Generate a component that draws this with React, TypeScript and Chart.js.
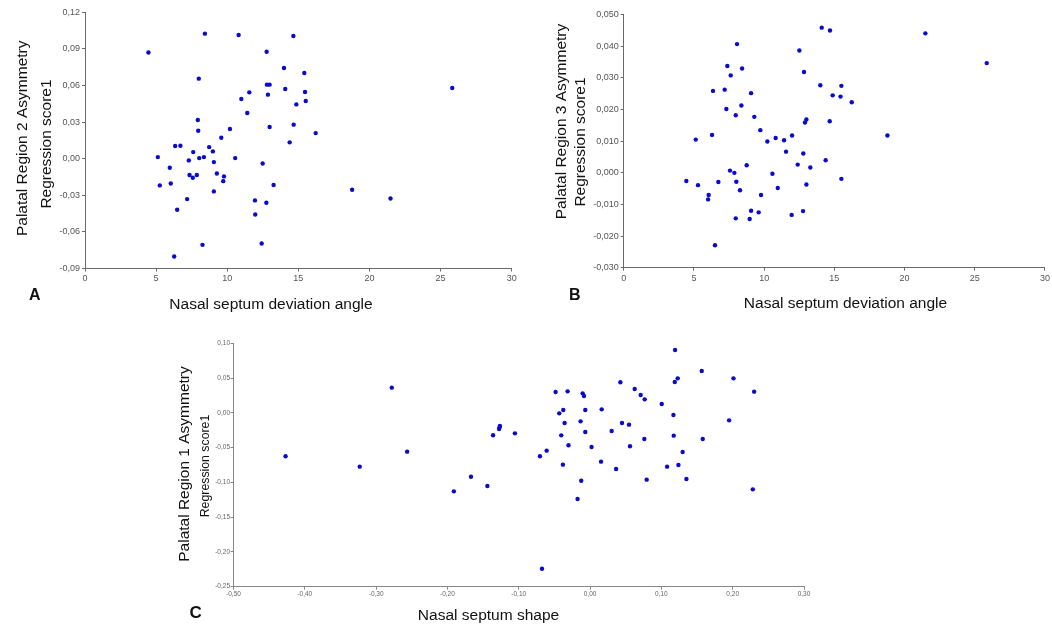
import React, { useEffect, useRef } from 'react';
import { Chart, registerables } from 'chart.js';

Chart.register(...registerables);

// ---------- Panel A: Palatal Region 2 vs nasal septum deviation angle ----------
const xTicksA = [0, 5, 10, 15, 20, 25, 30];
const yTicksA = [-0.09, -0.06, -0.03, 0, 0.03, 0.06, 0.09, 0.12];
const angleA = [4.46, 8.43, 10.80, 14.65, 12.77, 13.99, 15.42, 8.00, 12.79, 12.98, 11.55, 14.08, 15.47, 12.86, 10.99, 15.52, 14.86, 11.41, 7.93, 14.67, 7.96, 10.19, 12.98, 16.22, 9.58, 14.39, 6.34, 6.71, 8.73, 7.61, 8.99, 5.12, 8.03, 8.36, 10.56, 7.30, 9.06, 12.49, 5.96, 7.35, 7.58, 7.86, 9.27, 9.77, 9.72, 5.26, 6.03, 13.26, 9.06, 18.78, 7.18, 21.48, 11.95, 12.75, 6.48, 11.97, 25.82, 8.26, 12.42, 6.27];
const region2Score = [0.0871, 0.1025, 0.1014, 0.1006, 0.0877, 0.0743, 0.0702, 0.0656, 0.0607, 0.0607, 0.0544, 0.0571, 0.0547, 0.0525, 0.0489, 0.0473, 0.0445, 0.0374, 0.0317, 0.0279, 0.0229, 0.0243, 0.0260, 0.0210, 0.0172, 0.0134, 0.0104, 0.0106, 0.0095, 0.0054, 0.0060, 0.0013, 0.0005, 0.0013, 0.0005, -0.0014, -0.0028, -0.0039, -0.0074, -0.0134, -0.0156, -0.0134, -0.0121, -0.0145, -0.0184, -0.0219, -0.0203, -0.0216, -0.0268, -0.0255, -0.0331, -0.0326, -0.0342, -0.0361, -0.0419, -0.0457, 0.0579, -0.0706, -0.0695, -0.0802];

// ---------- Panel B: Palatal Region 3 vs nasal septum deviation angle ----------
const xTicksB = [0, 5, 10, 15, 20, 25, 30];
const yTicksB = [-0.03, -0.02, -0.01, 0, 0.01, 0.02, 0.03, 0.04, 0.05];
const angleB = [14.10, 14.69, 21.48, 8.07, 12.51, 25.85, 7.38, 8.43, 12.84, 7.62, 14.00, 15.50, 7.19, 6.36, 9.07, 14.88, 15.44, 16.24, 8.38, 7.31, 7.98, 9.30, 13.01, 12.91, 14.67, 9.73, 6.29, 18.78, 11.99, 5.13, 10.82, 11.42, 10.23, 11.56, 12.79, 14.38, 12.39, 8.76, 13.29, 7.57, 7.88, 10.59, 15.50, 4.46, 6.74, 8.02, 5.29, 13.01, 8.28, 10.97, 6.05, 6.01, 9.78, 9.07, 9.61, 12.77, 7.98, 8.97, 11.96, 6.50];
const region3Score = [0.0459, 0.0450, 0.0441, 0.0407, 0.0387, 0.0347, 0.0338, 0.0330, 0.0319, 0.0308, 0.0277, 0.0275, 0.0263, 0.0259, 0.0252, 0.0245, 0.0241, 0.0223, 0.0213, 0.0202, 0.0182, 0.0177, 0.0169, 0.0159, 0.0163, 0.0135, 0.0120, 0.0118, 0.0118, 0.0105, 0.0110, 0.0103, 0.0099, 0.0067, 0.0061, 0.0040, 0.0026, 0.0024, 0.0017, 0.0007, 0.0000, -0.0003, -0.0019, -0.0026, -0.0029, -0.0028, -0.0039, -0.0037, -0.0055, -0.0048, -0.0070, -0.0084, -0.0070, -0.0120, -0.0125, -0.0121, -0.0144, -0.0146, -0.0133, -0.0229];

// ---------- Panel C: Palatal Region 1 vs nasal septum shape ----------
const xTicksC = [-0.5, -0.4, -0.3, -0.2, -0.1, 0, 0.1, 0.2, 0.3];
const yTicksC = [-0.25, -0.2, -0.15, -0.1, -0.05, 0, 0.05, 0.1];
const shapeC = [-0.427, -0.323, -0.278, -0.2565, -0.191, -0.167, -0.144, -0.136, -0.1264, -0.1270, -0.1276, -0.1054, 0.1192, 0.1566, 0.1229, 0.2011, 0.1188, 0.0425, 0.2301, -0.0483, -0.0315, -0.0104, -0.0085, 0.0626, 0.0710, 0.0766, 0.1005, 0.1169, 0.1950, -0.0432, -0.0376, -0.0067, 0.0163, -0.0357, -0.0133, 0.0448, 0.0546, -0.0067, 0.0303, -0.0404, 0.0761, 0.1173, 0.1580, -0.0302, 0.0021, 0.0560, -0.0703, -0.0609, 0.1298, -0.0381, 0.0154, 0.0365, 0.1080, 0.1239, 0.0794, 0.1351, -0.0124, 0.2282, -0.0175, -0.0674];
const region1Score = [-0.0625, -0.0774, 0.0362, -0.0558, -0.1129, -0.0918, -0.1052, -0.0323, -0.0189, -0.0210, -0.0232, -0.0295, 0.0904, 0.0602, 0.0496, 0.0496, 0.0444, 0.0439, 0.0305, 0.0300, 0.0309, 0.0280, 0.0242, 0.0343, 0.0257, 0.0194, 0.0127, -0.0031, -0.0108, -0.0007, 0.0041, 0.0041, 0.0050, -0.0146, -0.0122, -0.0146, -0.0170, -0.0275, -0.0261, -0.0324, -0.0376, -0.0328, -0.0376, -0.0467, -0.0491, -0.0481, -0.0625, -0.0544, -0.0563, -0.0745, -0.0702, -0.0807, -0.0774, -0.0750, -0.0961, -0.0951, -0.0976, -0.1100, -0.1239, -0.2241];

const FAMILY = '"Liberation Sans", Arial, sans-serif';
const DOT = '#0a0acc';

const fmt = (v: number, d: number) => Number(v).toFixed(d).replace('.', ',');

type TextItem = { text: string; x: number; y: number; font: string; align?: CanvasTextAlign; rotate?: boolean; color?: string };

const panelTextPlugin = {
  id: 'panelText',
  afterDraw(chart: any, _args: any, opts: any) {
    const ctx = chart.ctx as CanvasRenderingContext2D;
    const items: TextItem[] = (opts && opts.items) || [];
    for (const t of items) {
      ctx.save();
      ctx.font = t.font;
      ctx.fillStyle = t.color || '#111';
      ctx.textAlign = t.align || 'center';
      ctx.textBaseline = 'alphabetic';
      ctx.translate(t.x, t.y);
      if (t.rotate) ctx.rotate(-Math.PI / 2);
      ctx.fillText(t.text, 0, 0);
      ctx.restore();
    }
  },
};

type PanelSpec = {
  left: number; top: number; w: number; h: number;
  plot: { l: number; r: number; t: number; b: number };
  xs: number[]; ys: number[];
  xTicks: number[]; yTicks: number[];
  xDec: number; yDec: number;
  tickSize: number; tickColor: string; axisColor: string;
  xPad: number; yPad: number;
  texts: TextItem[];
};

const XH = 22;

function buildConfig(p: PanelSpec): any {
  const data = p.xs.map((x, i) => ({ x, y: p.ys[i] }));
  const tickFont = { family: FAMILY, size: p.tickSize };
  return {
    type: 'scatter',
    data: {
      datasets: [{
        data,
        pointRadius: 2.2,
        pointBackgroundColor: DOT,
        pointBorderWidth: 0,
        pointHoverRadius: 2.2,
      }],
    },
    plugins: [panelTextPlugin],
    options: {
      animation: false,
      responsive: false,
      maintainAspectRatio: false,
      events: [],
      layout: {
        padding: { left: 0, top: p.plot.t, right: p.w - p.plot.r, bottom: p.h - p.plot.b - XH },
      },
      plugins: {
        legend: { display: false },
        tooltip: { enabled: false },
        panelText: { items: p.texts },
      },
      scales: {
        x: {
          type: 'linear',
          position: 'bottom',
          min: p.xTicks[0],
          max: p.xTicks[p.xTicks.length - 1],
          afterBuildTicks: (s: any) => { s.ticks = p.xTicks.map((v) => ({ value: v })); },
          afterFit: (s: any) => { s.height = XH; },
          grid: { drawOnChartArea: false, drawTicks: true, tickLength: 3, color: p.axisColor },
          border: { display: true, color: p.axisColor, width: 1 },
          ticks: {
            font: tickFont, color: p.tickColor, padding: p.xPad,
            maxRotation: 0, autoSkip: false,
            callback: (v: number) => fmt(v, p.xDec),
          },
        },
        y: {
          type: 'linear',
          position: 'left',
          min: p.yTicks[0],
          max: p.yTicks[p.yTicks.length - 1],
          afterBuildTicks: (s: any) => { s.ticks = p.yTicks.map((v) => ({ value: v })); },
          afterFit: (s: any) => { s.width = p.plot.l; },
          grid: { drawOnChartArea: false, drawTicks: true, tickLength: 3, color: p.axisColor },
          border: { display: true, color: p.axisColor, width: 1 },
          ticks: {
            font: tickFont, color: p.tickColor, padding: p.yPad,
            autoSkip: false,
            callback: (v: number) => fmt(v, p.yDec),
          },
        },
      },
    },
  };
}

function Panel({ spec }: { spec: PanelSpec }) {
  const ref = useRef<HTMLCanvasElement | null>(null);
  useEffect(() => {
    if (!ref.current) return;
    const chart = new Chart(ref.current, buildConfig(spec));
    return () => chart.destroy();
  }, [spec]);
  return (
    <canvas
      ref={ref}
      width={spec.w}
      height={spec.h}
      style={{ position: 'absolute', left: spec.left, top: spec.top, width: spec.w, height: spec.h }}
    />
  );
}

const TITLE = `15.5px ${FAMILY}`;

const panelA: PanelSpec = {
  left: 0, top: 0, w: 526, h: 318,
  plot: { l: 85, r: 511.7, t: 12.3, b: 268.5 },
  xs: angleA, ys: region2Score,
  xTicks: xTicksA, yTicks: yTicksA, xDec: 0, yDec: 2,
  tickSize: 9, tickColor: '#555', axisColor: '#6a6a6a', xPad: 2, yPad: 2,
  texts: [
    { text: 'Nasal septum deviation angle', x: 271, y: 308.5, font: TITLE },
    { text: 'A', x: 29, y: 300, font: `bold 16px ${FAMILY}`, align: 'left' },
    { text: 'Palatal Region 2 Asymmetry', x: 26.7, y: 138.3, font: TITLE, rotate: true },
    { text: 'Regression score1', x: 50.7, y: 144, font: TITLE, rotate: true },
  ],
};

const panelB: PanelSpec = {
  left: 526, top: 0, w: 526, h: 318,
  plot: { l: 97.7, r: 519, t: 14.7, b: 267.7 },
  xs: angleB, ys: region3Score,
  xTicks: xTicksB, yTicks: yTicksB, xDec: 0, yDec: 3,
  tickSize: 9, tickColor: '#555', axisColor: '#6a6a6a', xPad: 2, yPad: 2,
  texts: [
    { text: 'Nasal septum deviation angle', x: 319.5, y: 308, font: TITLE },
    { text: 'B', x: 43, y: 300, font: `bold 16px ${FAMILY}`, align: 'left' },
    { text: 'Palatal Region 3 Asymmetry', x: 39.7, y: 121.5, font: TITLE, rotate: true },
    { text: 'Regression score1', x: 58.5, y: 142, font: TITLE, rotate: true },
  ],
};

const panelC: PanelSpec = {
  left: 150, top: 318, w: 700, h: 310,
  plot: { l: 83.5, r: 654, t: 25.3, b: 268.7 },
  xs: shapeC, ys: region1Score,
  xTicks: xTicksC, yTicks: yTicksC, xDec: 2, yDec: 2,
  tickSize: 6.5, tickColor: '#666', axisColor: '#888', xPad: 1, yPad: 0.5,
  texts: [
    { text: 'Nasal septum shape', x: 338.5, y: 302, font: TITLE },
    { text: 'C', x: 39.6, y: 300, font: `bold 17px ${FAMILY}`, align: 'left' },
    { text: 'Palatal Region 1 Asymmetry', x: 38.8, y: 146, font: TITLE, rotate: true },
    { text: 'Regression score1', x: 58.6, y: 148, font: `12.3px ${FAMILY}`, rotate: true },
  ],
};

export default function App() {
  return (
    <div style={{ position: 'absolute', left: 0, top: 0, width: 1052, height: 628, background: '#fff', overflow: 'hidden' }}>
      <Panel spec={panelA} />
      <Panel spec={panelB} />
      <Panel spec={panelC} />
    </div>
  );
}
